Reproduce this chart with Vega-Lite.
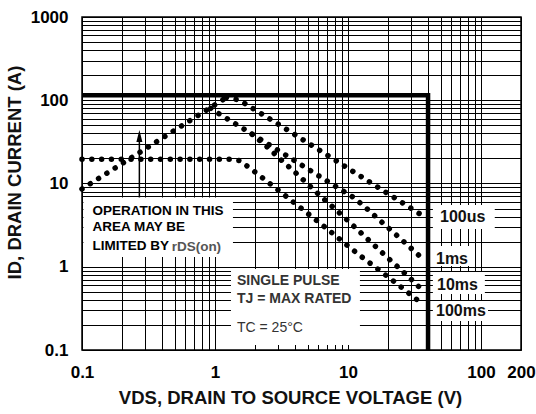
{
  "$schema": "https://vega.github.io/schema/vega-lite/v6.json",
  "width": 439,
  "height": 333,
  "autosize": {"type": "none"},
  "padding": {"left": 82, "top": 17, "right": 15, "bottom": 64},
  "background": "white",
  "config": {
    "font": "Liberation Sans",
    "view": {"stroke": "black", "strokeWidth": 1.5},
    "axis": {
      "grid": true,
      "gridColor": "black",
      "gridWidth": 1,
      "gridOpacity": 1,
      "ticks": false,
      "domain": false,
      "labelFont": "Liberation Sans",
      "labelFontSize": 17,
      "labelFontWeight": "bold",
      "labelColor": "black",
      "labelFlush": false,
      "labelOverlap": false,
      "titleFont": "Liberation Sans",
      "titleFontSize": 18.5,
      "titleFontWeight": "bold",
      "titleColor": "#111"
    }
  },
  "datasets": {
    "curves": [
      {"s": "rds", "o": 0, "x": 0.1, "y": 8.6},
      {"s": "rds", "o": 1, "x": 1.22, "y": 108},
      {"s": "100us", "o": 0, "x": 1.22, "y": 108},
      {"s": "100us", "o": 1, "x": 1.52, "y": 100.7},
      {"s": "100us", "o": 2, "x": 3.21, "y": 48.1},
      {"s": "100us", "o": 3, "x": 6.63, "y": 23.1},
      {"s": "100us", "o": 4, "x": 16.1, "y": 9.42},
      {"s": "100us", "o": 5, "x": 38.5, "y": 3.88},
      {"s": "1ms", "o": 0, "x": 0.93, "y": 80},
      {"s": "1ms", "o": 1, "x": 1.059, "y": 69.7},
      {"s": "1ms", "o": 2, "x": 1.66, "y": 44.8},
      {"s": "1ms", "o": 3, "x": 3.46, "y": 21.6},
      {"s": "1ms", "o": 4, "x": 7.23, "y": 10.3},
      {"s": "1ms", "o": 5, "x": 11.1, "y": 6.75},
      {"s": "1ms", "o": 6, "x": 14.5, "y": 4.68},
      {"s": "1ms", "o": 7, "x": 18.7, "y": 3.24},
      {"s": "1ms", "o": 8, "x": 24.3, "y": 2.24},
      {"s": "1ms", "o": 9, "x": 35.8, "y": 1.28},
      {"s": "10ms", "o": 0, "x": 1.9, "y": 39.2},
      {"s": "10ms", "o": 1, "x": 2.49, "y": 27.2},
      {"s": "10ms", "o": 2, "x": 3.21, "y": 18.6},
      {"s": "10ms", "o": 3, "x": 4.16, "y": 12.9},
      {"s": "10ms", "o": 4, "x": 6.09, "y": 7.28},
      {"s": "10ms", "o": 5, "x": 8.97, "y": 4.19},
      {"s": "10ms", "o": 6, "x": 13.2, "y": 2.36},
      {"s": "10ms", "o": 7, "x": 19.2, "y": 1.35},
      {"s": "10ms", "o": 8, "x": 28.1, "y": 0.775},
      {"s": "10ms", "o": 9, "x": 36.2, "y": 0.526},
      {"s": "100ms", "o": 0, "x": 0.1, "y": 19.5},
      {"s": "100ms", "o": 1, "x": 1.34, "y": 19.5},
      {"s": "100ms", "o": 2, "x": 1.54, "y": 18.8},
      {"s": "100ms", "o": 3, "x": 2.03, "y": 13.5},
      {"s": "100ms", "o": 4, "x": 3.5, "y": 6.83},
      {"s": "100ms", "o": 5, "x": 6.99, "y": 2.84},
      {"s": "100ms", "o": 6, "x": 11.9, "y": 1.42},
      {"s": "100ms", "o": 7, "x": 20.7, "y": 0.726},
      {"s": "100ms", "o": 8, "x": 35.8, "y": 0.364}
    ],
    "limits": [
      {"o": 0, "x": 0.1, "y": 115},
      {"o": 1, "x": 40, "y": 115},
      {"o": 2, "x": 40, "y": 0.1}
    ],
    "boxes": [
      {"box": "operation", "x": 0.1025, "x2": 1.365, "y": 1.31, "y2": 6.8},
      {"box": "pulse", "x": 1.319, "x2": 12.3, "y": 0.115, "y2": 0.94},
      {"box": "100us", "x": 43.5, "x2": 127, "y": 2.84, "y2": 5.52},
      {"box": "1ms", "x": 43.5, "x2": 82.6, "y": 1.02, "y2": 1.775},
      {"box": "10ms", "x": 43.5, "x2": 107, "y": 0.471, "y2": 0.865},
      {"box": "100ms", "x": 43.5, "x2": 113, "y": 0.223, "y2": 0.388}
    ],
    "opText": [
      {"t": "OPERATION IN THIS", "x": 0.12, "y": 4.71},
      {"t": "AREA MAY BE", "x": 0.12, "y": 2.98},
      {"t": "LIMITED BY", "x": 0.12, "y": 1.77}
    ],
    "rdsText": [
      {"t": "rDS(on)", "x": 0.472, "y": 1.74}
    ],
    "pulseText": [
      {"t": "SINGLE PULSE", "x": 1.464, "y": 0.68},
      {"t": "TJ = MAX RATED", "x": 1.464, "y": 0.406}
    ],
    "tcText": [
      {"t": "TC = 25°C", "x": 1.464, "y": 0.182}
    ],
    "curveLabels": [
      {"t": "100us", "x": 49.2, "y": 3.96},
      {"t": "1ms", "x": 45.9, "y": 1.24},
      {"t": "10ms", "x": 46.7, "y": 0.612},
      {"t": "100ms", "x": 45.9, "y": 0.292}
    ],
    "arrowShaft": [
      {"x": 0.27, "y": 6.8, "y2": 38}
    ],
    "arrowHead": [
      {"x": 0.27, "y": 37.3}
    ]
  },
  "encoding": {
    "x": {
      "field": "x",
      "type": "quantitative",
      "scale": {"type": "log", "domain": [0.1, 200], "nice": false},
      "axis": {
        "title": "VDS, DRAIN TO SOURCE VOLTAGE (V)",
        "values": [0.1, 0.2, 0.3, 0.4, 0.5, 0.6, 0.7, 0.8, 0.9, 1, 2, 3, 4, 5, 6, 7, 8, 9, 10, 20, 30, 40, 50, 60, 70, 80, 90, 100, 200],
        "labelExpr": "(datum.value == 0.1 || datum.value == 1 || datum.value == 10 || datum.value == 100 || datum.value == 200) ? format(datum.value, '~g') : ''",
        "labelPadding": 14,
        "titleX": 208,
        "titleY": 38,
        "titleAnchor": "middle"
      }
    },
    "y": {
      "field": "y",
      "type": "quantitative",
      "scale": {"type": "log", "domain": [0.1, 1000], "nice": false},
      "axis": {
        "title": "ID, DRAIN CURRENT (A)",
        "values": [0.1, 0.2, 0.3, 0.4, 0.5, 0.6, 0.7, 0.8, 0.9, 1, 2, 3, 4, 5, 6, 7, 8, 9, 10, 20, 30, 40, 50, 60, 70, 80, 90, 100, 200, 300, 400, 500, 600, 700, 800, 900, 1000],
        "labelExpr": "(datum.value == 0.1 || datum.value == 1 || datum.value == 10 || datum.value == 100 || datum.value == 1000) ? format(datum.value, '~g') : ''",
        "labelPadding": 14,
        "titleX": -58,
        "titleY": 155
      }
    }
  },
  "layer": [
    {
      "data": {"name": "boxes"},
      "mark": {"type": "rect", "fill": "white", "strokeWidth": 0},
      "encoding": {"x2": {"field": "x2"}, "y2": {"field": "y2"}}
    },
    {
      "data": {"name": "limits"},
      "mark": {"type": "line", "color": "black", "strokeWidth": 4.5, "strokeCap": "butt", "strokeJoin": "miter"},
      "encoding": {"order": {"field": "o", "type": "quantitative"}}
    },
    {
      "data": {"name": "curves"},
      "mark": {"type": "line", "color": "black", "strokeWidth": 5.5, "strokeCap": "round", "strokeDash": [0.01, 9.8]},
      "encoding": {
        "detail": {"field": "s", "type": "nominal"},
        "order": {"field": "o", "type": "quantitative"}
      }
    },
    {
      "data": {"name": "arrowShaft"},
      "mark": {"type": "rule", "color": "black", "strokeWidth": 1.5},
      "encoding": {"y2": {"field": "y2"}}
    },
    {
      "data": {"name": "arrowHead"},
      "mark": {"type": "point", "shape": "M0,-1L0.5,1L-0.5,1Z", "size": 144, "filled": true, "color": "black", "opacity": 1}
    },
    {
      "data": {"name": "opText"},
      "mark": {"type": "text", "align": "left", "baseline": "middle", "font": "Liberation Sans", "fontSize": 13.5, "fontWeight": "bold", "color": "black"},
      "encoding": {"text": {"field": "t"}}
    },
    {
      "data": {"name": "rdsText"},
      "mark": {"type": "text", "align": "left", "baseline": "middle", "font": "Liberation Sans", "fontSize": 13.5, "fontWeight": "bold", "color": "#555"},
      "encoding": {"text": {"field": "t"}}
    },
    {
      "data": {"name": "pulseText"},
      "mark": {"type": "text", "align": "left", "baseline": "middle", "font": "Liberation Sans", "fontSize": 14, "fontWeight": "bold", "color": "#333"},
      "encoding": {"text": {"field": "t"}}
    },
    {
      "data": {"name": "tcText"},
      "mark": {"type": "text", "align": "left", "baseline": "middle", "font": "Liberation Sans", "fontSize": 14, "fontWeight": "normal", "color": "#333"},
      "encoding": {"text": {"field": "t"}}
    },
    {
      "data": {"name": "curveLabels"},
      "mark": {"type": "text", "align": "left", "baseline": "middle", "font": "Liberation Sans", "fontSize": 16, "fontWeight": "bold", "color": "#111"},
      "encoding": {"text": {"field": "t"}}
    }
  ]
}
